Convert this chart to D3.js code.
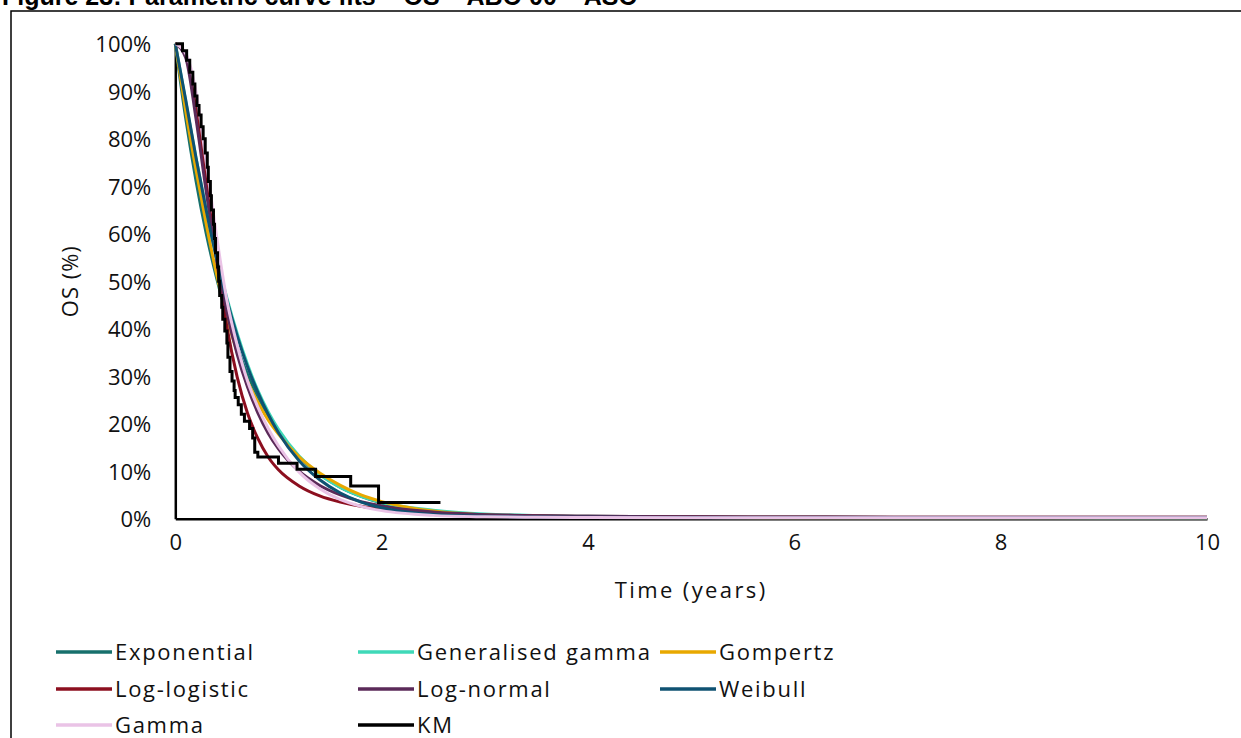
<!DOCTYPE html>
<html>
<head>
<meta charset="utf-8">
<script src="https://cdn.jsdelivr.net/npm/d3@7"></script>
<style>
  html, body { margin: 0; padding: 0; background: #fff; }
  svg { display: block; }
  .tick-lbl { font-family: "Open Sans", "Liberation Sans", sans-serif; font-size: 22px; fill: #111; }
  .ttl { font-family: "Open Sans", "Liberation Sans", sans-serif; font-size: 22px; fill: #111; }
  .leg { font-family: "Open Sans", "Liberation Sans", sans-serif; font-size: 22px; fill: #111; letter-spacing: 1.7px; }
</style>
</head>
<body>
<svg id="chart" width="1241" height="738"></svg>
<script>
// Time grid (years) for the fitted parametric curves
const years = [0, 0.1, 0.2, 0.3, 0.4, 0.5, 0.6, 0.7, 0.8, 0.9, 1.0, 1.2, 1.4, 1.6, 1.8, 2.0, 2.5, 3, 3.5, 4, 5, 6, 7, 8, 9, 10];

// Overall survival (%) of each fitted model on the grid above
const exponential = [100, 84.4, 71.2, 60.0, 50.7, 42.7, 36.1, 30.4, 25.7, 21.7, 18.3, 13.0, 9.3, 6.6, 4.7, 3.3, 1.5, 0.8, 0.5, 0.4, 0.3, 0.25, 0.2, 0.2, 0.2, 0.2];
const genGamma    = [100, 88, 76, 65, 55, 46.5, 39, 32.5, 27, 22.5, 18.8, 13.2, 9.3, 6.6, 4.7, 3.4, 1.8, 1.0, 0.65, 0.5, 0.35, 0.3, 0.25, 0.25, 0.2, 0.2];
const gompertz    = [100, 86, 73.5, 62, 51.5, 42.5, 35, 29, 24.5, 20.8, 17.8, 13, 9.6, 7, 5.0, 3.6, 1.6, 0.8, 0.5, 0.35, 0.25, 0.2, 0.2, 0.2, 0.2, 0.2];
const logLogistic = [100, 97.7, 87.7, 71.6, 54.6, 40.4, 29.8, 22.2, 16.9, 13.0, 10.3, 6.9, 4.8, 3.5, 2.6, 2.0, 1.2, 0.8, 0.6, 0.5, 0.4, 0.35, 0.3, 0.3, 0.3, 0.3];
const logNormal   = [100, 97.1, 84.3, 68.8, 54.8, 43.5, 34.6, 27.7, 22.3, 18.0, 14.7, 10.0, 7.0, 5.0, 3.6, 2.7, 1.4, 0.85, 0.6, 0.5, 0.4, 0.35, 0.3, 0.3, 0.3, 0.3];
const weibull     = [100, 88.3, 76.1, 64.9, 54.8, 46.0, 38.5, 32.0, 26.6, 22.0, 18.1, 12.2, 8.2, 5.4, 3.5, 2.3, 0.9, 0.5, 0.35, 0.3, 0.25, 0.2, 0.2, 0.2, 0.2, 0.2];
const gamma       = [100, 98, 90, 75, 59.5, 46, 36.5, 29, 23.5, 19, 15.3, 9.8, 6.3, 4.0, 2.6, 1.7, 0.7, 0.4, 0.3, 0.25, 0.2, 0.2, 0.2, 0.2, 0.2, 0.2];

// Kaplan-Meier estimate: step times (years) and survival (%) after each step
const kmTime = [0, 0.07, 0.11, 0.14, 0.17, 0.19, 0.21, 0.23, 0.25, 0.27, 0.29, 0.31, 0.32, 0.34, 0.35, 0.37, 0.38, 0.39, 0.41, 0.42, 0.43, 0.45, 0.46, 0.48, 0.50, 0.51, 0.53, 0.55, 0.57, 0.58, 0.61, 0.64, 0.67, 0.72, 0.75, 0.77, 0.80, 1.00, 1.18, 1.36, 1.70, 1.97, 2.57];
const kmSurv = [100, 98.5, 96.5, 94, 91.5, 89, 87, 85, 82.5, 80, 77, 74, 71, 68, 65, 62, 59, 56, 53, 50, 47, 44.5, 42, 39.5, 37, 34, 31, 29, 27, 25.5, 24, 22, 20.5, 19, 17, 14, 13, 11.7, 10.4, 8.9, 6.9, 3.4, 3.4];

// Axis ticks
const xTicks = [0, 2, 4, 6, 8, 10];
const yTicks = [0, 10, 20, 30, 40, 50, 60, 70, 80, 90, 100];

// Legend entries, in drawing order
const seriesNames  = ["Exponential", "Generalised gamma", "Gompertz", "Log-logistic", "Log-normal", "Weibull", "Gamma", "KM"];
const seriesColors = ["#17706c", "#3fd9b8", "#e8a800", "#8c0f1f", "#5b2a59", "#0f5272", "#eac3e6", "#000000"];

const title = "Figure 23: Parametric curve fits \u2013 OS \u2013 ABC-00 \u2013 ASC";

const svg = d3.select("#chart");

// Page heading (runs off the top edge) and the figure frame
svg.append("text")
  .attr("x", 2).attr("y", 5)
  .attr("font-family", "Liberation Sans, Arial, sans-serif")
  .attr("font-weight", "bold").attr("font-size", 25)
  .attr("fill", "#000")
  .text(title);

svg.append("path")
  .attr("d", "M11,745V11H1250")
  .attr("fill", "none").attr("stroke", "#000").attr("stroke-width", 1.5);

const x = d3.scaleLinear().domain([0, 10]).range([175.3, 1207]);
const y = d3.scaleLinear().domain([0, 100]).range([518.7, 43.7]);

// Axes: plain lines with labels, no tick marks
const xAxis = d3.axisBottom(x).tickValues(xTicks).tickSize(0).tickPadding(14).tickFormat(d3.format("d"));
const yAxis = d3.axisLeft(y).tickValues(yTicks).tickSize(0).tickPadding(24).tickFormat(d => d + "%");

const gx = svg.append("g").attr("transform", `translate(0,${y(0)})`).call(xAxis);
const gy = svg.append("g").attr("transform", `translate(${x(0)},0)`).call(yAxis);
[gx, gy].forEach(g => {
  g.select(".domain").attr("stroke", "#000").attr("stroke-width", 2.5);
  g.selectAll(".tick text").attr("class", "tick-lbl").attr("font-family", null).attr("font-size", null).attr("fill", null);
});
gy.selectAll(".tick text").attr("dy", "0.36em");
gx.selectAll(".tick text").attr("dy", "0.78em");

// Axis titles
svg.append("text").attr("class", "ttl")
  .attr("x", (x(0) + x(10)) / 2).attr("y", 598)
  .attr("text-anchor", "middle")
  .attr("letter-spacing", 2.4)
  .text("Time (years)");

svg.append("text").attr("class", "ttl")
  .attr("transform", `translate(78,${(y(0) + y(100)) / 2}) rotate(-90)`)
  .attr("text-anchor", "middle")
  .attr("letter-spacing", 1)
  .text("OS (%)");

// Fitted curves
const fits = [exponential, genGamma, gompertz, logLogistic, logNormal, weibull, gamma];
const curveLine = d3.line()
  .x((d, i) => x(years[i]))
  .y(d => y(d))
  .curve(d3.curveMonotoneX);

fits.forEach((vals, k) => {
  svg.append("path")
    .datum(vals)
    .attr("d", curveLine)
    .attr("fill", "none")
    .attr("stroke", seriesColors[k])
    .attr("stroke-width", 3)
    .attr("stroke-linejoin", "round");
});

// Kaplan-Meier step function on top
const kmLine = d3.line()
  .x((d, i) => x(kmTime[i]))
  .y(d => y(d))
  .curve(d3.curveStepAfter);

svg.append("path")
  .datum(kmSurv)
  .attr("d", kmLine)
  .attr("fill", "none")
  .attr("stroke", seriesColors[7])
  .attr("stroke-width", 3);

// Legend: three columns
const legX = [56, 358, 660];
const legY = [652, 689, 725];
const legend = svg.append("g");
seriesNames.forEach((name, i) => {
  const cx = legX[i % 3], cy = legY[Math.floor(i / 3)];
  legend.append("line")
    .attr("x1", cx).attr("x2", cx + 56)
    .attr("y1", cy).attr("y2", cy)
    .attr("stroke", seriesColors[i]).attr("stroke-width", 3.5);
  legend.append("text").attr("class", "leg")
    .attr("x", cx + 59).attr("y", cy + 8)
    .text(name);
});
</script>
</body>
</html>
